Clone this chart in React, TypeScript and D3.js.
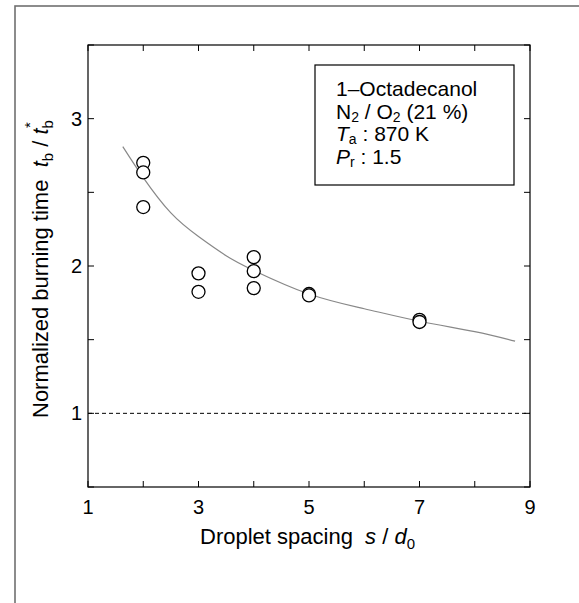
import React from "react";
import * as d3 from "d3";

const spacingX = [2, 2, 2, 3, 3, 4, 4, 4, 5, 5, 7, 7];
const burnTime = [2.7, 2.635, 2.4, 1.95, 1.825, 2.06, 1.965, 1.85, 1.81, 1.8, 1.635, 1.62];
const curveX = [1.63, 2, 2.5, 3, 3.5, 4, 5, 6, 7, 8, 8.73];
const curveY = [2.81, 2.6, 2.36, 2.2, 2.07, 1.97, 1.81, 1.71, 1.625, 1.555, 1.49];
const xTicks = [1, 2, 3, 4, 5, 6, 7, 8, 9];
const xLabels = [1, 3, 5, 7, 9];
const yTicks = [0.5, 1, 1.5, 2, 2.5, 3, 3.5];
const yLabels = [1, 2, 3];

const W = 579, H = 603;
const L = 88, R = 530, T = 45, B = 487;
const FONT = "'Liberation Sans', Arial, sans-serif";

export default function App() {
  const x = d3.scaleLinear().domain([1, 9]).range([L, R]);
  const y = d3.scaleLinear().domain([0.5, 3.5]).range([B, T]);
  const line = d3
    .line<number>()
    .x((d, i) => x(curveX[i]))
    .y((d) => y(d))
    .curve(d3.curveNatural);
  const tl = 6;
  const lx = 336;
  return (
    <svg
      width={W}
      height={H}
      style={{ position: "absolute", left: 0, top: 0, fontFamily: FONT }}
    >
      <rect x={0} y={0} width={W} height={H} fill="#fff" />
      <rect x={15} y={6} width={700} height={800} fill="none" stroke="#707070" strokeWidth={1.6} />
      {/* curve */}
      <path d={line(curveY) || ""} fill="none" stroke="#888" strokeWidth={1.2} />
      {/* dashed reference */}
      <line x1={L} x2={R} y1={y(1)} y2={y(1)} stroke="#000" strokeWidth={1} strokeDasharray="4,3" />
      {/* frame */}
      <rect x={L} y={T} width={R - L} height={B - T} fill="none" stroke="#000" strokeWidth={1.2} />
      {xTicks.map((t) => (
        <g key={"xt" + t}>
          <line x1={x(t)} x2={x(t)} y1={B} y2={B - tl} stroke="#000" />
          <line x1={x(t)} x2={x(t)} y1={T} y2={T + tl} stroke="#000" />
        </g>
      ))}
      {yTicks.map((t) => (
        <g key={"yt" + t}>
          <line x1={L} x2={L + tl} y1={y(t)} y2={y(t)} stroke="#000" />
          <line x1={R} x2={R - tl} y1={y(t)} y2={y(t)} stroke="#000" />
        </g>
      ))}
      {xLabels.map((t) => (
        <text key={"xl" + t} x={x(t)} y={B + 27} textAnchor="middle" fontSize={20}>
          {t}
        </text>
      ))}
      {yLabels.map((t) => (
        <text key={"yl" + t} x={L - 6} y={y(t) + 7} textAnchor="end" fontSize={20}>
          {t}
        </text>
      ))}
      {/* points */}
      {spacingX.map((sx, i) => (
        <circle key={"p" + i} cx={x(sx)} cy={y(burnTime[i])} r={6.5} fill="#fff" stroke="#000" strokeWidth={1.3} />
      ))}
      {/* x title */}
      <text x={200} y={544} fontSize={22}>
        Droplet spacing{"\u00a0\u00a0"}
        <tspan fontStyle="italic">s</tspan> /{" "}
        <tspan fontStyle="italic">d</tspan>
        <tspan fontSize={15} dy={5}>0</tspan>
      </text>
      {/* y title */}
      <text transform="translate(48,418) rotate(-90)" fontSize={22}>
        Normalized burning time{"\u00a0\u00a0"}
        <tspan fontStyle="italic">t</tspan>
        <tspan fontSize={15} dy={5}>b</tspan>
        <tspan dy={-5}> / </tspan>
        <tspan fontStyle="italic">t</tspan>
        <tspan fontSize={15} dy={5}>b</tspan>
        <tspan fontSize={15} dx={-8} dy={-18}>*</tspan>
      </text>
      {/* legend */}
      <rect x={315} y={65} width={199} height={120} fill="#fff" stroke="#000" strokeWidth={1.2} />
      <text x={lx} y={96} fontSize={21}>1–Octadecanol</text>
      <text x={lx} y={118.5} fontSize={21}>
        N<tspan fontSize={14} dy={3}>2</tspan>
        <tspan dy={-3}> / O</tspan>
        <tspan fontSize={14} dy={3}>2</tspan>
        <tspan dy={-3}> (21 %)</tspan>
      </text>
      <text x={lx} y={141} fontSize={21}>
        <tspan fontStyle="italic">T</tspan>
        <tspan fontSize={14} dy={3}>a</tspan>
        <tspan dy={-3}> : 870 K</tspan>
      </text>
      <text x={lx} y={163.5} fontSize={21}>
        <tspan fontStyle="italic">P</tspan>
        <tspan fontSize={14} dy={3}>r</tspan>
        <tspan dy={-3}> : 1.5</tspan>
      </text>
    </svg>
  );
}
